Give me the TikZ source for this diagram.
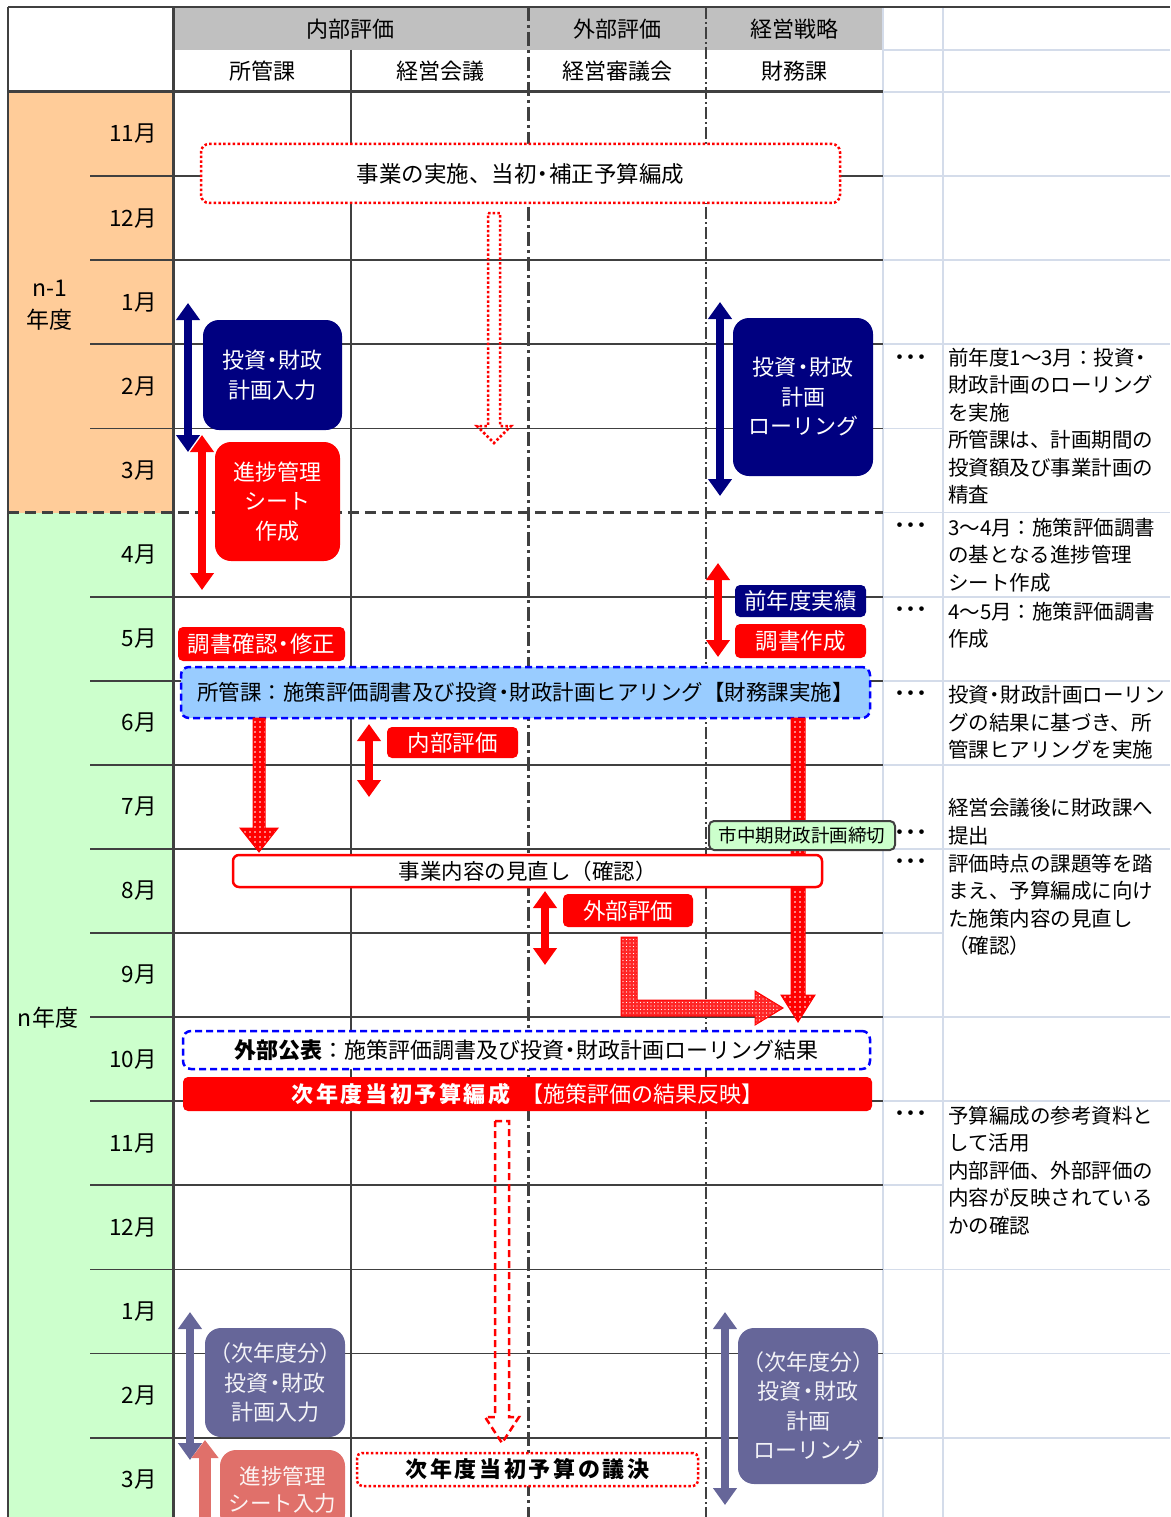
\documentclass[tikz,border=0pt]{standalone}
\usepackage{fontspec}
\setmainfont{Noto Sans CJK JP}
\usepackage{tikz}
\usetikzlibrary{calc,shapes,arrows.meta,patterns.meta}

\definecolor{gridgray}{RGB}{64,64,64}
\definecolor{softline}{RGB}{212,220,234}
\definecolor{hdrgray}{RGB}{192,192,192}
\definecolor{prevyear}{RGB}{255,204,153}
\definecolor{curyear}{RGB}{204,255,204}
\definecolor{navyc}{RGB}{0,0,128}
\definecolor{redc}{RGB}{255,0,0}
\definecolor{hearblue}{RGB}{153,204,255}
\definecolor{dashblue}{RGB}{0,0,255}
\definecolor{nextpurple}{RGB}{102,102,153}
\definecolor{nextsalmon}{RGB}{224,112,106}

\newcommand{\fsz}[2]{\fontsize{#1}{#2}\selectfont}
\newcommand{\dt}{\makebox[0.55em]{・}}

\begin{document}
\begin{tikzpicture}[x=1pt,y=-1pt,
  gridline/.style={draw=gridgray,line width=1.8pt},
  sideline/.style={draw=softline,line width=1.8pt},
  monthlbl/.style={anchor=east,inner sep=0pt,font=\fsz{22.5}{26}},
  hdrlbl/.style={inner sep=0pt,font=\fsz{22}{26}},
  notelbl/.style={anchor=north west,inner sep=0pt,align=left,font=\fsz{20.5}{27.5}},
  dotlbl/.style={inner sep=0pt,font=\fsz{22}{24}\bfseries},
  bigbox/.style={rounded corners=16pt,align=center,text=white,inner sep=0pt,font=\fsz{22}{29.5}},
  tagbox/.style={rounded corners=5pt,align=center,text=white,inner sep=0pt,font=\fsz{22.5}{26}},
  dblarrow/.style={line width=8pt,{Triangle[width=23pt,length=17pt]}-{Triangle[width=23pt,length=17pt]}},
  hollowdot/.style={draw=redc,line width=2.5pt,dash pattern=on 2.5pt off 2.2pt},
  hollowdash/.style={draw=redc,line width=2.5pt,dash pattern=on 7pt off 4pt},
  dotarrow/.style={draw=redc,line width=1pt,preaction={fill=redc},
    pattern={Dots[distance=5pt,radius=0.8pt]},pattern color=white}
]
  \useasboundingbox (0,0) rectangle (1170,1517);

  %% Backgrounds of the year column and the header
  \fill[prevyear] (8,92) rectangle (173,512.5);
  \fill[curyear] (8,512.5) rectangle (173,1517);
  \fill[hdrgray] (173,7) rectangle (883,50);

  %% Right hand columns
  \draw[sideline] (883,7) -- (883,1517);
  \draw[sideline] (943,7) -- (943,1517);
  \draw[sideline] (883,50) -- (1170,50);
  \draw[sideline] (883,92) -- (1170,92);
  \foreach \r in {1,2,3,5,6,7,8,9,11,12,14,15,16}
    \draw[sideline] (883,{92+84.1*\r}) -- (1170,{92+84.1*\r});
  \foreach \r in {4,10,13}
    \draw[sideline] (883,{92+84.1*\r}) -- (943,{92+84.1*\r});

  %% Month rows
  \foreach \r in {1,2,3,4,6,7,...,16}
    \draw[gridline] (90,{92+84.1*\r}) -- (883,{92+84.1*\r});
  \draw[gridline,line width=3pt,dash pattern=on 11pt off 6pt] (8,512.5) -- (883,512.5);
  \foreach \m [count=\r from 0] in {11,12,1,2,3,4,5,6,7,8,9,10,11,12,1,2,3}
    \node[monthlbl] (mon\r) at (157,{92+84.1*\r+42}) {\m 月};

  %% Columns
  \draw[gridline] (8,7) -- (1170,7);
  \draw[gridline] (8,7) -- (8,1517);
  \draw[gridline,line width=3pt] (173,7) -- (173,1517);
  \draw[gridline] (351,50) -- (351,1517);
  \draw[gridline,line width=3pt,dash pattern=on 14pt off 4pt on 3pt off 4pt] (528,7) -- (528,1517);
  \draw[gridline,line width=1.4pt,dash pattern=on 12pt off 3pt on 2pt off 3pt] (706,7) -- (706,1517);
  \draw[gridline,line width=3pt] (8,92) -- (883,92);

  %% Header labels
  \node[hdrlbl] (hInt) at (350,29) {内部評価};
  \node[hdrlbl] (hExt) at (617,29) {外部評価};
  \node[hdrlbl] (hStr) at (794,29) {経営戦略};
  \node[hdrlbl] (hSho) at (262,71) {所管課};
  \node[hdrlbl] (hKai) at (440,71) {経営会議};
  \node[hdrlbl] (hShin) at (617,71) {経営審議会};
  \node[hdrlbl] (hZai) at (794,71) {財務課};

  %% Year labels
  \node[align=center,inner sep=0pt,font=\fsz{23}{32}] (yPrev) at (50,305) {n-1\\年度};
  \node[inner sep=0pt,font=\fsz{23}{28}] (yCur) at (48,1018) {n年度};

  %% Previous year
  \node[draw=redc,fill=white,line width=2.5pt,dash pattern=on 2.5pt off 2.2pt,rounded corners=8pt,
    minimum width=639pt,minimum height=59pt,inner sep=0pt,font=\fsz{22.5}{26}] (exec) at (520.5,173.5)
    {事業の実施、当初\dt 補正予算編成};
  \coordinate (h1s) at (494,213);
  \coordinate (h1e) at (494,443);
  \draw[hollowdot] ($(h1s)+(-6,0)$) -- ($(h1s)+(6,0)$) -- ($(h1e)+(6,-17)$) -- ($(h1e)+(17,-17)$)
    -- (h1e) -- ($(h1e)+(-17,-17)$) -- ($(h1e)+(-6,-17)$) -- cycle;

  \node[bigbox,fill=navyc,minimum width=139pt,minimum height=110pt] (inv1) at (272.5,375) {投資\dt 財政\\計画入力};
  \node[bigbox,fill=redc,minimum width=125pt,minimum height=119pt] (prog1) at (277.5,501.5) {進捗管理\\シート\\作成};
  \coordinate (n1a) at (188,303);
  \coordinate (n1b) at (188,452);
  \draw[dblarrow,draw=navyc] (n1a) -- (n1b);
  \coordinate (r1a) at (202,435);
  \coordinate (r1b) at (202,590);
  \draw[dblarrow,draw=redc] (r1a) -- (r1b);

  \node[bigbox,fill=navyc,minimum width=140pt,minimum height=158pt] (roll1) at (803,397) {投資\dt 財政\\計画\\ローリング};
  \coordinate (n2a) at (720,302);
  \coordinate (n2b) at (720,496);
  \draw[dblarrow,draw=navyc] (n2a) -- (n2b);

  %% Current year
  \node[tagbox,fill=navyc,minimum width=131pt,minimum height=32pt] (prevres) at (800.5,601) {前年度実績};
  \node[tagbox,fill=redc,minimum width=131pt,minimum height=34pt] (repmk) at (800.5,641) {調書作成};
  \coordinate (r2a) at (718,563);
  \coordinate (r2b) at (718,657);
  \draw[dblarrow,draw=redc] (r2a) -- (r2b);
  \node[tagbox,fill=redc,minimum width=167pt,minimum height=34pt] (repchk) at (261.5,644) {調書確認\dt 修正};

  \node[draw=dashblue,fill=hearblue,line width=2.5pt,dash pattern=on 7pt off 4pt,rounded corners=8pt,
    minimum width=689pt,minimum height=51pt,inner sep=0pt,font=\fsz{21.5}{26}] (hear) at (525.5,692.5)
    {所管課：施策評価調書及び投資\dt 財政計画ヒアリング【財務課実施】};

  \coordinate (d1s) at (259,718);
  \coordinate (d1e) at (259,852);
  \draw[dotarrow] ($(d1s)+(-6,0)$) -- ($(d1s)+(6,0)$) -- ($(d1e)+(6,-24)$) -- ($(d1e)+(19,-24)$)
    -- (d1e) -- ($(d1e)+(-19,-24)$) -- ($(d1e)+(-6,-24)$) -- cycle;
  \coordinate (d2s) at (798,718);
  \coordinate (d2e) at (798,1022);
  \draw[dotarrow] ($(d2s)+(-7,0)$) -- ($(d2s)+(7,0)$) -- ($(d2e)+(7,-27)$) -- ($(d2e)+(17,-27)$)
    -- (d2e) -- ($(d2e)+(-17,-27)$) -- ($(d2e)+(-7,-27)$) -- cycle;

  \node[tagbox,fill=redc,minimum width=131pt,minimum height=31pt] (intev) at (452.5,742.5) {内部評価};
  \coordinate (r3a) at (369,724);
  \coordinate (r3b) at (369,797);
  \draw[dblarrow,draw=redc] (r3a) -- (r3b);

  \node[draw=gridgray,fill=curyear,line width=2pt,rounded corners=5pt,minimum width=186pt,
    minimum height=29pt,inner sep=0pt,font=\fsz{18.5}{22}] (cutoff) at (802,835.5) {市中期財政計画締切};

  \node[draw=redc,fill=white,line width=2.5pt,rounded corners=6pt,minimum width=589pt,
    minimum height=32pt,inner sep=0pt,font=\fsz{21.5}{26}] (review) at (527.5,871) {事業内容の見直し（確認）};

  \node[tagbox,fill=redc,minimum width=130pt,minimum height=33pt] (extev) at (628,910.5) {外部評価};
  \coordinate (r4a) at (545,891);
  \coordinate (r4b) at (545,965);
  \draw[dblarrow,draw=redc] (r4a) -- (r4b);

  \coordinate (lst) at (629,937);
  \coordinate (lcn) at (629,1008);
  \coordinate (lend) at (783,1008);
  \draw[draw=redc,line width=1pt,preaction={fill=redc!85},pattern={Dots[distance=3.5pt,radius=0.7pt]},pattern color=white]
    ($(lst)+(-8,0)$) -- ($(lst)+(8,0)$) -- ($(lcn)+(8,-8)$) -- ($(lend)+(-28,-8)$) -- ($(lend)+(-28,-17)$)
    -- (lend) -- ($(lend)+(-28,17)$) -- ($(lend)+(-28,8)$) -- ($(lcn)+(-8,8)$) -- cycle;

  \node[draw=dashblue,fill=white,line width=2.5pt,dash pattern=on 7pt off 4pt,rounded corners=8pt,
    minimum width=687pt,minimum height=38pt,inner sep=0pt,font=\fsz{22}{26}] (publ) at (526.5,1050)
    {{\bfseries 外部公表}：施策評価調書及び投資\dt 財政計画ローリング結果};
  \node[fill=redc,rounded corners=5pt,minimum width=689pt,minimum height=34pt,inner sep=0pt,
    text=white,font=\fsz{22}{26}] (budget) at (527.5,1094)
    {{\bfseries\addfontfeature{LetterSpace=12}次年度当初予算編成}\enspace【施策評価の結果反映】};

  \coordinate (h2s) at (502,1121);
  \coordinate (h2e) at (502,1443);
  \draw[hollowdash] ($(h2s)+(-7,0)$) -- ($(h2s)+(7,0)$) -- ($(h2e)+(7,-26)$) -- ($(h2e)+(17,-26)$)
    -- (h2e) -- ($(h2e)+(-17,-26)$) -- ($(h2e)+(-7,-26)$) -- cycle;

  \node[draw=redc,fill=white,line width=2.5pt,dash pattern=on 2.5pt off 2.2pt,rounded corners=5pt,
    minimum width=341pt,minimum height=33pt,inner sep=0pt,font=\fsz{22}{26}] (vote) at (527.5,1469.5)
    {{\bfseries\addfontfeature{LetterSpace=12}次年度当初予算の議決}};

  %% Next year input
  \node[bigbox,fill=nextpurple,text=white!92!nextpurple,minimum width=140pt,minimum height=109pt] (inv2) at (275,1382.5)
    {（次年度分）\\投資\dt 財政\\計画入力};
  \node[bigbox,fill=nextsalmon,text=white!92!nextsalmon,minimum width=125pt,minimum height=80pt,font=\fsz{21.5}{27}] (prog2) at (282.5,1490)
    {進捗管理\\シート入力};
  \coordinate (p1a) at (190,1312);
  \coordinate (p1b) at (190,1460);
  \draw[dblarrow,draw=nextpurple] (p1a) -- (p1b);
  \coordinate (s1a) at (205,1530);
  \coordinate (s1b) at (205,1440);
  \draw[draw=nextsalmon,line width=12pt,-{Triangle[width=26pt,length=18pt]}] (s1a) -- (s1b);

  \node[bigbox,fill=nextpurple,text=white!92!nextpurple,minimum width=140pt,minimum height=156pt] (roll2) at (808,1406)
    {（次年度分）\\投資\dt 財政\\計画\\ローリング};
  \coordinate (p2a) at (725,1312);
  \coordinate (p2b) at (725,1505);
  \draw[dblarrow,draw=nextpurple] (p2a) -- (p2b);

  %% Notes
  \foreach \y [count=\i] in {360,528,612,696,835,864,1116}
    \node[dotlbl] (dots\i) at (911,\y) {･･･};
  \node[notelbl] (note1) at (948,347.5) {前年度1～3月：投資\dt\\財政計画のローリング\\を実施\\所管課は、計画期間の\\投資額及び事業計画の\\精査};
  \node[notelbl] (note2) at (948,517.5) {3～4月：施策評価調書\\の基となる進捗管理\\シート作成};
  \node[notelbl] (note3) at (948,601.5) {4～5月：施策評価調書\\作成};
  \node[notelbl] (note4) at (948,685.5) {投資\dt 財政計画ローリン\\グの結果に基づき、所\\管課ヒアリングを実施};
  \node[notelbl] (note5) at (948,798.5) {経営会議後に財政課へ\\提出};
  \node[notelbl] (note6) at (948,853.5) {評価時点の課題等を踏\\まえ、予算編成に向け\\た施策内容の見直し\\（確認）};
  \node[notelbl] (note7) at (948,1105.5) {予算編成の参考資料と\\して活用\\内部評価、外部評価の\\内容が反映されている\\かの確認};
\end{tikzpicture}
\end{document}
